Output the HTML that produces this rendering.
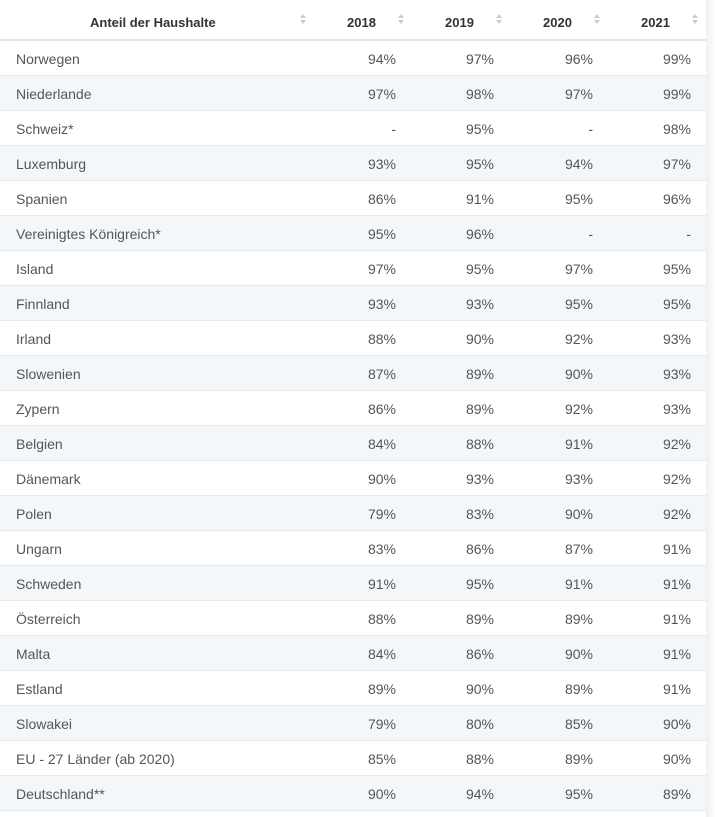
<!DOCTYPE html>
<html><head><meta charset="utf-8"><style>
body{margin:0;background:#fff;font-family:"Liberation Sans",sans-serif;width:716px;height:817px;overflow:hidden;position:relative}
.shadow{position:absolute;left:706px;top:0;width:10px;height:817px;background:linear-gradient(90deg,#eef0f2,#fff)}
.hdr{position:absolute;top:0;left:0;width:706px;height:39px;border-bottom:2px solid #e4e6e8;font-weight:bold;font-size:13px;color:#333}
.hdr span{position:absolute;top:15px}
.ic{position:absolute;top:14px;width:6px;font-size:0}
.ic:before{content:"";position:absolute;top:0;left:0;border:3px solid transparent;border-bottom:4px solid #c8cbce;border-top:0}
.ic:after{content:"";position:absolute;top:6px;left:0;border:3px solid transparent;border-top:4px solid #c8cbce;border-bottom:0}
.row{position:absolute;left:0;width:706px;height:34px;border-bottom:1px solid #e6e8ea;font-size:14px;color:#555}
.row.alt{background:#f4f7fa}
.row span{position:absolute;top:10px}
.n{left:16px}
.v{text-align:right;width:60px}
</style></head><body>
<div class="shadow"></div>
<div class="hdr">
<span style="left:90px">Anteil der Haushalte</span><i class="ic" style="left:300px"></i>
<span style="left:347px">2018</span><i class="ic" style="left:398px"></i>
<span style="left:445px">2019</span><i class="ic" style="left:496px"></i>
<span style="left:543px">2020</span><i class="ic" style="left:594px"></i>
<span style="left:641px">2021</span><i class="ic" style="left:692px"></i>
</div>
<div id="t"></div>
<script>
var d=[["Norwegen","94%","97%","96%","99%"],["Niederlande","97%","98%","97%","99%"],["Schweiz*","-","95%","-","98%"],["Luxemburg","93%","95%","94%","97%"],["Spanien","86%","91%","95%","96%"],["Vereinigtes Königreich*","95%","96%","-","-"],["Island","97%","95%","97%","95%"],["Finnland","93%","93%","95%","95%"],["Irland","88%","90%","92%","93%"],["Slowenien","87%","89%","90%","93%"],["Zypern","86%","89%","92%","93%"],["Belgien","84%","88%","91%","92%"],["Dänemark","90%","93%","93%","92%"],["Polen","79%","83%","90%","92%"],["Ungarn","83%","86%","87%","91%"],["Schweden","91%","95%","91%","91%"],["Österreich","88%","89%","89%","91%"],["Malta","84%","86%","90%","91%"],["Estland","89%","90%","89%","91%"],["Slowakei","79%","80%","85%","90%"],["EU - 27 Länder (ab 2020)","85%","88%","89%","90%"],["Deutschland**","90%","94%","95%","89%"]];
var ends=[396,494,593,691],h="";
d.forEach(function(r,i){h+='<div class="row'+(i%2?' alt':'')+'" style="top:'+(41+i*35)+'px"><span class="n">'+r[0]+'</span>';
for(var j=0;j<4;j++)h+='<span class="v" style="left:'+(ends[j]-60)+'px">'+r[j+1]+'</span>';h+='</div>';});
document.getElementById("t").innerHTML=h;
</script>
</body></html>
